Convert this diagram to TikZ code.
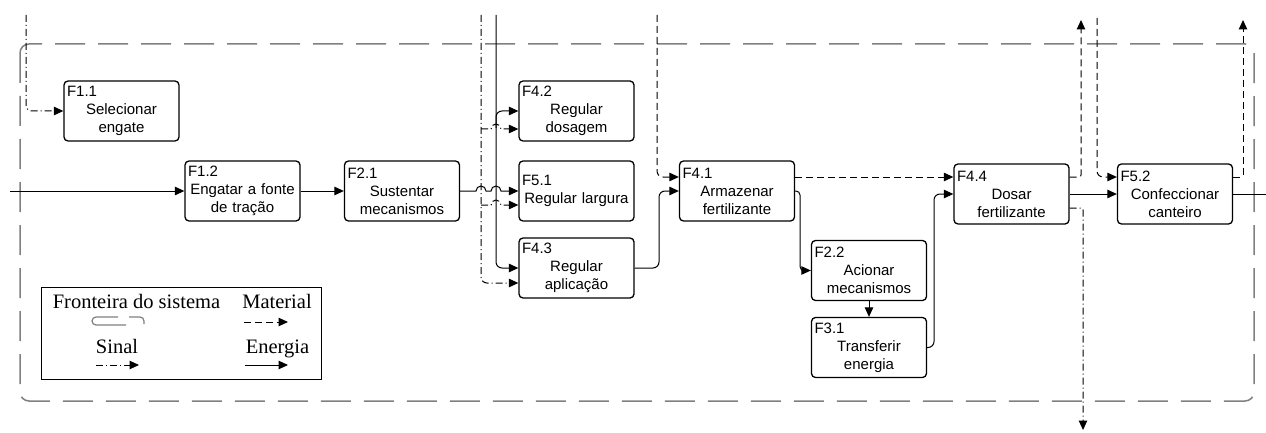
\documentclass[tikz,border=0pt]{standalone}
\usepackage{fontspec}
\setmainfont{Liberation Serif}
\newfontfamily\arial{Liberation Sans}
\usetikzlibrary{arrows.meta}
\newcommand\lbl[1]{\makebox[\hsize][l]{#1}}
\definecolor{bgray}{HTML}{808080}
\begin{document}
\begin{tikzpicture}[x=1pt,y=-1pt,
  fnbox/.style={draw, line width=1.3pt, rounded corners=4pt, minimum height=60pt, text width=109pt, inner xsep=3pt, inner ysep=0pt, align=center, font=\arial\fontsize{15}{18}\selectfont},
  tip/.style={-{Triangle[length=9.5pt,width=8.5pt]}},
  energy/.style={line width=1pt, tip, rounded corners=6pt},
  material/.style={line width=1pt, tip, dash pattern=on 7pt off 4pt, rounded corners=6pt},
  signal/.style={line width=1pt, tip, dash pattern=on 7pt off 3pt on 1pt off 3pt, rounded corners=6pt},
  hop/.style={line width=1pt, tip},
  boundary/.style={draw=bgray, line width=1.5pt, dash pattern=on 30pt off 13pt, rounded corners=9pt},
  legtext/.style={font=\fontsize{20.5}{24}\selectfont, inner sep=0pt, anchor=base}
]
\useasboundingbox (0,0) rectangle (1266,433);

% system boundary
\draw[boundary] (20,44) rectangle (1254,401);

% function boxes
\node[fnbox] (F11) at (121.5,111) {\lbl{F1.1}\\Selecionar\\engate};
\node[fnbox] (F12) at (242.5,191) {\lbl{F1.2}\\Engatar a fonte\\de tração};
\node[fnbox] (F21) at (402,191) {\lbl{F2.1}\\Sustentar\\mecanismos};
\node[fnbox] (F42) at (576.5,111) {\lbl{F4.2}\\Regular\\dosagem};
\node[fnbox] (F51) at (576.5,191) {\lbl{F5.1}\\Regular largura};
\node[fnbox] (F43) at (576.5,268) {\lbl{F4.3}\\Regular\\aplicação};
\node[fnbox] (F41) at (737,191) {\lbl{F4.1}\\Armazenar\\fertilizante};
\node[fnbox] (F22) at (869,270.5) {\lbl{F2.2}\\Acionar\\mecanismos};
\node[fnbox] (F31) at (869,347.5) {\lbl{F3.1}\\Transferir\\energia};
\node[fnbox] (F44) at (1011.5,194) {\lbl{F4.4}\\Dosar\\fertilizante};
\node[fnbox] (F52) at (1175,194) {\lbl{F5.2}\\Confeccionar\\canteiro};

% free ends
\coordinate (sA) at (26,15);
\coordinate (eIn) at (10,191);
\coordinate (sT) at (481,15);
\coordinate (eT) at (496,15);
\coordinate (eB) at (496,128);
\coordinate (sB1) at (481,129);
\coordinate (sB2) at (481,205);
\coordinate (mT1) at (657,15);
\coordinate (mO1) at (1081,20);
\coordinate (sO1) at (1083,430);
\coordinate (mT2) at (1097,18);
\coordinate (mO2) at (1243,20);
\coordinate (eOut) at (1266,194);

% connectors
\draw[signal] (sA) |- (F11.west);
\draw[energy] (eIn) -- (F12.west);
\draw[energy] (F12.east) -- (F21.west);
\draw[hop] (F21.east) -- (476,191) arc (180:0:5pt) -- (491,191) arc (180:0:5pt) -- (F51.west);
\draw[signal] (sT) |- ([yshift=-15pt]F43.west);
\draw[energy] (eT) |- (F43.west);
\draw[energy] (eB) |- (F42.west);
\draw[hop, dash pattern=on 7pt off 3pt on 1pt off 3pt] (sB1) -- (491,129) arc (180:0:5pt) -- ([yshift=-18pt]F42.west);
\draw[hop, dash pattern=on 7pt off 3pt on 1pt off 3pt] (sB2) -- (491,205) arc (180:0:5pt) -- ([yshift=-14pt]F51.west);
\draw[energy] (F43.east) -- (659,268) |- (F41.west);
\draw[material] (mT1) |- ([yshift=14pt]F41.west);
\draw[material] ([yshift=14pt]F41.east) -- ([yshift=17pt]F44.west);
\draw[energy, rounded corners=4pt] (F41.east) -- (800,191) |- (F22.west);
\draw[energy] (F22.south) -- (F31.north);
\draw[energy] (F31.east) -- (934,347.5) |- (F44.west);
\draw[energy] (F44.east) -- (F52.west);
\draw[material, rounded corners=2pt] ([yshift=17pt]F44.east) -| (mO1);
\draw[signal, rounded corners=2pt] ([yshift=-14pt]F44.east) -| (sO1);
\draw[material] (mT2) |- ([yshift=17pt]F52.west);
\draw[material, rounded corners=2pt] ([yshift=17pt]F52.east) -| (mO2);
\draw[line width=1pt] (F52.east) -- (eOut);

% legend
\node[draw, line width=0.9pt, minimum width=280pt, minimum height=92pt, inner sep=0pt] (leg) at (181,333) {};
\node[legtext] (lgF) at (136.5,308) {Fronteira do sistema};
\node[legtext] (lgM) at (277,308) {Material};
\node[legtext] (lgS) at (117,353) {Sinal};
\node[legtext] (lgE) at (277.5,353) {Energia};
\draw[draw=bgray, line width=1.2pt, rounded corners=4pt] (118,317) -- (92,317) -- (92,325) -- (126,325);
\draw[draw=bgray, line width=1.2pt, rounded corners=4pt] (129,317) -- (144,317) -- (144,324);
\coordinate (lmA) at (244,322); \coordinate (lmB) at (288,322);
\coordinate (lsA) at (96,365); \coordinate (lsB) at (139,365);
\coordinate (leA) at (245,365); \coordinate (leB) at (288,365);
\draw[material] (lmA) -- (lmB);
\draw[signal] (lsA) -- (lsB);
\draw[energy] (leA) -- (leB);
\end{tikzpicture}
\end{document}
